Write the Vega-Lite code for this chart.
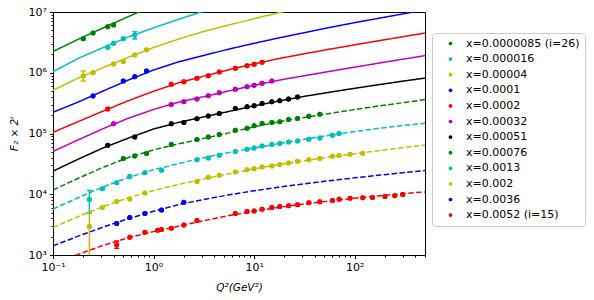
{
"$schema": "https://vega.github.io/schema/vega-lite/v6.json",
"width": 372, "height": 243,
"autosize": {"type": "none"},
"padding": {"left": 53, "top": 12, "right": 169, "bottom": 45},
"config": {"font": "DejaVu Sans", "view": {"stroke": "black", "strokeWidth": 1}},
"datasets": {
"curves": [
{"s":"x=0.0000085 (i=26)","d":0,"q":0.1,"F":2234000},{"s":"x=0.0000085 (i=26)","d":0,"q":0.1778,"F":3548000},{"s":"x=0.0000085 (i=26)","d":0,"q":0.3162,"F":5495000},{"s":"x=0.0000085 (i=26)","d":0,"q":0.5623,"F":8414000},{"s":"x=0.0000085 (i=26)","d":0,"q":1,"F":12735000},
{"s":"x=0.000016","d":0,"q":0.1,"F":1042000},{"s":"x=0.000016","d":0,"q":0.1778,"F":1718000},{"s":"x=0.000016","d":0,"q":0.3162,"F":2600000},{"s":"x=0.000016","d":0,"q":0.5623,"F":3890000},{"s":"x=0.000016","d":0,"q":1,"F":5495000},{"s":"x=0.000016","d":0,"q":1.778,"F":7586000},{"s":"x=0.000016","d":0,"q":3.162,"F":10350000},
{"s":"x=0.00004","d":0,"q":0.1,"F":515200},{"s":"x=0.00004","d":0,"q":0.1778,"F":816600},{"s":"x=0.00004","d":0,"q":0.3162,"F":1216200},{"s":"x=0.00004","d":0,"q":0.5623,"F":1799000},{"s":"x=0.00004","d":0,"q":1,"F":2600000},{"s":"x=0.00004","d":0,"q":1.778,"F":3589000},{"s":"x=0.00004","d":0,"q":3.162,"F":4786000},{"s":"x=0.00004","d":0,"q":5.623,"F":6095000},{"s":"x=0.00004","d":0,"q":10,"F":7762000},{"s":"x=0.00004","d":0,"q":17.78,"F":9772000},{"s":"x=0.00004","d":0,"q":31.62,"F":12303000},
{"s":"x=0.0001","d":0,"q":0.1,"F":223900},{"s":"x=0.0001","d":0,"q":0.1778,"F":329600},{"s":"x=0.0001","d":0,"q":0.3162,"F":501200},{"s":"x=0.0001","d":0,"q":0.5623,"F":758600},{"s":"x=0.0001","d":0,"q":1,"F":1109200},{"s":"x=0.0001","d":0,"q":1.778,"F":1513600},{"s":"x=0.0001","d":0,"q":3.162,"F":1927500},{"s":"x=0.0001","d":0,"q":5.623,"F":2454700},{"s":"x=0.0001","d":0,"q":10,"F":3055000},{"s":"x=0.0001","d":0,"q":17.78,"F":3758000},{"s":"x=0.0001","d":0,"q":31.62,"F":4571000},{"s":"x=0.0001","d":0,"q":56.23,"F":5559000},{"s":"x=0.0001","d":0,"q":100,"F":6683000},{"s":"x=0.0001","d":0,"q":177.8,"F":7943000},{"s":"x=0.0001","d":0,"q":316.2,"F":9441000},{"s":"x=0.0001","d":0,"q":500,"F":10965000},
{"s":"x=0.0002","d":0,"q":0.1,"F":104710},{"s":"x=0.0002","d":0,"q":0.1778,"F":156680},{"s":"x=0.0002","d":0,"q":0.3162,"F":234400},{"s":"x=0.0002","d":0,"q":0.5623,"F":346700},{"s":"x=0.0002","d":0,"q":1,"F":495450},{"s":"x=0.0002","d":0,"q":1.778,"F":683900},{"s":"x=0.0002","d":0,"q":3.162,"F":881000},{"s":"x=0.0002","d":0,"q":5.623,"F":1122000},{"s":"x=0.0002","d":0,"q":10,"F":1396400},{"s":"x=0.0002","d":0,"q":17.78,"F":1718000},{"s":"x=0.0002","d":0,"q":31.62,"F":2053500},{"s":"x=0.0002","d":0,"q":56.23,"F":2440600},{"s":"x=0.0002","d":0,"q":100,"F":2884000},{"s":"x=0.0002","d":0,"q":177.8,"F":3388000},{"s":"x=0.0002","d":0,"q":316.2,"F":3972000},{"s":"x=0.0002","d":0,"q":500,"F":4498000},
{"s":"x=0.00032","d":0,"q":0.1,"F":50700},{"s":"x=0.00032","d":0,"q":0.1778,"F":78520},{"s":"x=0.00032","d":0,"q":0.3162,"F":120500},{"s":"x=0.00032","d":0,"q":0.5623,"F":178240},{"s":"x=0.00032","d":0,"q":1,"F":248890},{"s":"x=0.00032","d":0,"q":1.778,"F":328100},{"s":"x=0.00032","d":0,"q":3.162,"F":403650},{"s":"x=0.00032","d":0,"q":5.623,"F":502340},{"s":"x=0.00032","d":0,"q":10,"F":621590},{"s":"x=0.00032","d":0,"q":17.78,"F":755970},{"s":"x=0.00032","d":0,"q":31.62,"F":893310},{"s":"x=0.00032","d":0,"q":56.23,"F":1052700},{"s":"x=0.00032","d":0,"q":100,"F":1236800},{"s":"x=0.00032","d":0,"q":177.8,"F":1448800},{"s":"x=0.00032","d":0,"q":316.2,"F":1692400},{"s":"x=0.00032","d":0,"q":500,"F":1910700},
{"s":"x=0.00051","d":0,"q":0.1,"F":23988},{"s":"x=0.00051","d":0,"q":0.1778,"F":37757},{"s":"x=0.00051","d":0,"q":0.3162,"F":58076},{"s":"x=0.00051","d":0,"q":0.5623,"F":83946},{"s":"x=0.00051","d":0,"q":1,"F":118580},{"s":"x=0.00051","d":0,"q":1.778,"F":152760},{"s":"x=0.00051","d":0,"q":3.162,"F":187930},{"s":"x=0.00051","d":0,"q":5.623,"F":231210},{"s":"x=0.00051","d":0,"q":10,"F":284450},{"s":"x=0.00051","d":0,"q":17.78,"F":343960},{"s":"x=0.00051","d":0,"q":31.62,"F":408810},{"s":"x=0.00051","d":0,"q":56.23,"F":477530},{"s":"x=0.00051","d":0,"q":100,"F":554630},{"s":"x=0.00051","d":0,"q":177.8,"F":640490},{"s":"x=0.00051","d":0,"q":316.2,"F":735400},{"s":"x=0.00051","d":0,"q":500,"F":817140},
{"s":"x=0.00076","d":1,"q":0.1,"F":11749},{"s":"x=0.00076","d":1,"q":0.1778,"F":18281},{"s":"x=0.00076","d":1,"q":0.3162,"F":27861},{"s":"x=0.00076","d":1,"q":0.5623,"F":40272},{"s":"x=0.00076","d":1,"q":1,"F":53703},{"s":"x=0.00076","d":1,"q":1.778,"F":67608},{"s":"x=0.00076","d":1,"q":3.162,"F":83176},{"s":"x=0.00076","d":1,"q":5.623,"F":102330},{"s":"x=0.00076","d":1,"q":10,"F":128820},{"s":"x=0.00076","d":1,"q":17.78,"F":156680},{"s":"x=0.00076","d":1,"q":31.62,"F":184080},{"s":"x=0.00076","d":1,"q":56.23,"F":213800},{"s":"x=0.00076","d":1,"q":100,"F":248310},{"s":"x=0.00076","d":1,"q":177.8,"F":285100},{"s":"x=0.00076","d":1,"q":316.2,"F":325090},{"s":"x=0.00076","d":1,"q":500,"F":362240},
{"s":"x=0.0013","d":1,"q":0.1,"F":5728},{"s":"x=0.0013","d":1,"q":0.1778,"F":8750},{"s":"x=0.0013","d":1,"q":0.3162,"F":13243},{"s":"x=0.0013","d":1,"q":0.5623,"F":18923},{"s":"x=0.0013","d":1,"q":1,"F":25235},{"s":"x=0.0013","d":1,"q":1.778,"F":32137},{"s":"x=0.0013","d":1,"q":3.162,"F":39994},{"s":"x=0.0013","d":1,"q":5.623,"F":48641},{"s":"x=0.0013","d":1,"q":10,"F":57810},{"s":"x=0.0013","d":1,"q":17.78,"F":68310},{"s":"x=0.0013","d":1,"q":31.62,"F":80265},{"s":"x=0.0013","d":1,"q":56.23,"F":93756},{"s":"x=0.0013","d":1,"q":100,"F":107650},{"s":"x=0.0013","d":1,"q":177.8,"F":122180},{"s":"x=0.0013","d":1,"q":316.2,"F":137090},{"s":"x=0.0013","d":1,"q":500,"F":147230},
{"s":"x=0.002","d":1,"q":0.1,"F":2831},{"s":"x=0.002","d":1,"q":0.1778,"F":4286},{"s":"x=0.002","d":1,"q":0.3162,"F":6281},{"s":"x=0.002","d":1,"q":0.5623,"F":8770},{"s":"x=0.002","d":1,"q":1,"F":11561},{"s":"x=0.002","d":1,"q":1.778,"F":14555},{"s":"x=0.002","d":1,"q":3.162,"F":17906},{"s":"x=0.002","d":1,"q":5.623,"F":21777},{"s":"x=0.002","d":1,"q":10,"F":26182},{"s":"x=0.002","d":1,"q":17.78,"F":30761},{"s":"x=0.002","d":1,"q":31.62,"F":35727},{"s":"x=0.002","d":1,"q":56.23,"F":41020},{"s":"x=0.002","d":1,"q":100,"F":46559},{"s":"x=0.002","d":1,"q":177.8,"F":52541},{"s":"x=0.002","d":1,"q":316.2,"F":58952},{"s":"x=0.002","d":1,"q":500,"F":64310},
{"s":"x=0.0036","d":1,"q":0.1,"F":1413},{"s":"x=0.0036","d":1,"q":0.1778,"F":2042},{"s":"x=0.0036","d":1,"q":0.3162,"F":2884},{"s":"x=0.0036","d":1,"q":0.5623,"F":3981},{"s":"x=0.0036","d":1,"q":1,"F":5248},{"s":"x=0.0036","d":1,"q":1.778,"F":6761},{"s":"x=0.0036","d":1,"q":3.162,"F":8222},{"s":"x=0.0036","d":1,"q":5.623,"F":9772},{"s":"x=0.0036","d":1,"q":10,"F":11416},{"s":"x=0.0036","d":1,"q":17.78,"F":13107},{"s":"x=0.0036","d":1,"q":31.62,"F":14876},{"s":"x=0.0036","d":1,"q":56.23,"F":16692},{"s":"x=0.0036","d":1,"q":100,"F":18621},{"s":"x=0.0036","d":1,"q":177.8,"F":20654},{"s":"x=0.0036","d":1,"q":316.2,"F":22777},{"s":"x=0.0036","d":1,"q":500,"F":24621},
{"s":"x=0.0052 (i=15)","d":1,"q":0.1,"F":724},{"s":"x=0.0052 (i=15)","d":1,"q":0.1778,"F":1023},{"s":"x=0.0052 (i=15)","d":1,"q":0.3162,"F":1445},{"s":"x=0.0052 (i=15)","d":1,"q":0.5623,"F":1928},{"s":"x=0.0052 (i=15)","d":1,"q":1,"F":2427},{"s":"x=0.0052 (i=15)","d":1,"q":1.778,"F":2985},{"s":"x=0.0052 (i=15)","d":1,"q":3.162,"F":3673},{"s":"x=0.0052 (i=15)","d":1,"q":5.623,"F":4467},{"s":"x=0.0052 (i=15)","d":1,"q":10,"F":5248},{"s":"x=0.0052 (i=15)","d":1,"q":17.78,"F":6095},{"s":"x=0.0052 (i=15)","d":1,"q":31.62,"F":6918},{"s":"x=0.0052 (i=15)","d":1,"q":56.23,"F":7762},{"s":"x=0.0052 (i=15)","d":1,"q":100,"F":8610},{"s":"x=0.0052 (i=15)","d":1,"q":177.8,"F":9441},{"s":"x=0.0052 (i=15)","d":1,"q":316.2,"F":10292},{"s":"x=0.0052 (i=15)","d":1,"q":500,"F":10924}
],
"points": [
{"s":"x=0.0000085 (i=26)","q":0.2,"F":3640000},{"s":"x=0.0000085 (i=26)","q":0.25,"F":4500000},{"s":"x=0.0000085 (i=26)","q":0.35,"F":5710000},{"s":"x=0.0000085 (i=26)","q":0.4,"F":6100000},
{"s":"x=0.000016","q":0.35,"F":2640000},{"s":"x=0.000016","q":0.4,"F":3050000},{"s":"x=0.000016","q":0.5,"F":3620000},{"s":"x=0.000016","q":0.65,"F":4170000},
{"s":"x=0.00004","q":0.2,"F":885000},{"s":"x=0.00004","q":0.25,"F":1004000},{"s":"x=0.00004","q":0.4,"F":1398000},{"s":"x=0.00004","q":0.5,"F":1526000},{"s":"x=0.00004","q":0.65,"F":1968000},{"s":"x=0.00004","q":0.85,"F":2380000},
{"s":"x=0.0001","q":0.25,"F":414000},{"s":"x=0.0001","q":0.5,"F":732000},{"s":"x=0.0001","q":0.65,"F":862000},{"s":"x=0.0001","q":0.85,"F":1070000},
{"s":"x=0.0002","q":0.35,"F":252000},{"s":"x=0.0002","q":1.5,"F":646000},{"s":"x=0.0002","q":2,"F":713000},{"s":"x=0.0002","q":2.7,"F":811000},{"s":"x=0.0002","q":3.5,"F":895000},{"s":"x=0.0002","q":4.5,"F":1031000},{"s":"x=0.0002","q":6.5,"F":1186000},{"s":"x=0.0002","q":8.5,"F":1310000},{"s":"x=0.0002","q":10,"F":1382000},{"s":"x=0.0002","q":12,"F":1493000},
{"s":"x=0.00032","q":0.4,"F":145200},{"s":"x=0.00032","q":1.5,"F":301500},{"s":"x=0.00032","q":2,"F":333000},{"s":"x=0.00032","q":2.7,"F":369000},{"s":"x=0.00032","q":3.5,"F":417000},{"s":"x=0.00032","q":4.5,"F":467000},{"s":"x=0.00032","q":6.5,"F":534000},{"s":"x=0.00032","q":8.5,"F":589000},{"s":"x=0.00032","q":10,"F":622000},{"s":"x=0.00032","q":12,"F":671000},{"s":"x=0.00032","q":15,"F":732000},
{"s":"x=0.00051","q":0.35,"F":64100},{"s":"x=0.00051","q":0.65,"F":87900},{"s":"x=0.00051","q":1.5,"F":145200},{"s":"x=0.00051","q":2,"F":152000},{"s":"x=0.00051","q":2.7,"F":174200},{"s":"x=0.00051","q":3.5,"F":194500},{"s":"x=0.00051","q":4.5,"F":214000},{"s":"x=0.00051","q":6.5,"F":257000},{"s":"x=0.00051","q":8.5,"F":275400},{"s":"x=0.00051","q":10,"F":286000},{"s":"x=0.00051","q":12,"F":313000},{"s":"x=0.00051","q":15,"F":333000},{"s":"x=0.00051","q":18,"F":346000},{"s":"x=0.00051","q":22,"F":369000},{"s":"x=0.00051","q":27,"F":398000},
{"s":"x=0.00076","q":0.5,"F":38600},{"s":"x=0.00076","q":0.65,"F":42700},{"s":"x=0.00076","q":0.85,"F":46700},{"s":"x=0.00076","q":1.5,"F":65800},{"s":"x=0.00076","q":2.7,"F":79600},{"s":"x=0.00076","q":3.5,"F":87900},{"s":"x=0.00076","q":4.5,"F":96200},{"s":"x=0.00076","q":6.5,"F":113500},{"s":"x=0.00076","q":8.5,"F":122400},{"s":"x=0.00076","q":10,"F":134600},{"s":"x=0.00076","q":12,"F":146200},{"s":"x=0.00076","q":15,"F":152000},{"s":"x=0.00076","q":18,"F":155600},{"s":"x=0.00076","q":22,"F":170300},{"s":"x=0.00076","q":27,"F":177000},{"s":"x=0.00076","q":35,"F":193200},{"s":"x=0.00076","q":45,"F":208400},
{"s":"x=0.0013","q":0.23,"F":8200},{"s":"x=0.0013","q":0.31,"F":12330},{"s":"x=0.0013","q":0.43,"F":15490},{"s":"x=0.0013","q":0.58,"F":19680},{"s":"x=0.0013","q":0.82,"F":22650},{"s":"x=0.0013","q":1.2,"F":24720},{"s":"x=0.0013","q":2.7,"F":37150},{"s":"x=0.0013","q":3.5,"F":39530},{"s":"x=0.0013","q":4.5,"F":43750},{"s":"x=0.0013","q":6.5,"F":50360},{"s":"x=0.0013","q":8.5,"F":55000},{"s":"x=0.0013","q":10,"F":57800},{"s":"x=0.0013","q":12,"F":62400},{"s":"x=0.0013","q":15,"F":65800},{"s":"x=0.0013","q":18,"F":68400},{"s":"x=0.0013","q":22,"F":72600},{"s":"x=0.0013","q":27,"F":75500},{"s":"x=0.0013","q":35,"F":80500},{"s":"x=0.0013","q":45,"F":84500},{"s":"x=0.0013","q":60,"F":93800},{"s":"x=0.0013","q":70,"F":100000},
{"s":"x=0.002","q":0.23,"F":2940},{"s":"x=0.002","q":0.31,"F":6050},{"s":"x=0.002","q":0.43,"F":7600},{"s":"x=0.002","q":0.58,"F":8360},{"s":"x=0.002","q":0.82,"F":10500},{"s":"x=0.002","q":2.7,"F":16290},{"s":"x=0.002","q":3.5,"F":18970},{"s":"x=0.002","q":4.5,"F":20460},{"s":"x=0.002","q":6.5,"F":23170},{"s":"x=0.002","q":8.5,"F":25410},{"s":"x=0.002","q":10,"F":26360},{"s":"x=0.002","q":12,"F":28050},{"s":"x=0.002","q":15,"F":29110},{"s":"x=0.002","q":18,"F":30760},{"s":"x=0.002","q":22,"F":32660},{"s":"x=0.002","q":27,"F":34830},{"s":"x=0.002","q":35,"F":37150},{"s":"x=0.002","q":45,"F":38640},{"s":"x=0.002","q":60,"F":42170},{"s":"x=0.002","q":70,"F":43250},{"s":"x=0.002","q":90,"F":45500},{"s":"x=0.002","q":120,"F":47200},
{"s":"x=0.0036","q":0.43,"F":3290},{"s":"x=0.0036","q":0.58,"F":4140},{"s":"x=0.0036","q":0.82,"F":4820},{"s":"x=0.0036","q":1.2,"F":5500},{"s":"x=0.0036","q":2,"F":7400},
{"s":"x=0.0052 (i=15)","q":0.43,"F":1479},{"s":"x=0.0052 (i=15)","q":0.58,"F":1954},{"s":"x=0.0052 (i=15)","q":0.82,"F":2366},{"s":"x=0.0052 (i=15)","q":1.1,"F":2560},{"s":"x=0.0052 (i=15)","q":1.2,"F":2620},{"s":"x=0.0052 (i=15)","q":1.5,"F":2754},{"s":"x=0.0052 (i=15)","q":2,"F":3112},{"s":"x=0.0052 (i=15)","q":2.7,"F":3690},{"s":"x=0.0052 (i=15)","q":6.5,"F":4820},{"s":"x=0.0052 (i=15)","q":8.5,"F":5200},{"s":"x=0.0052 (i=15)","q":10,"F":5297},{"s":"x=0.0052 (i=15)","q":12,"F":5675},{"s":"x=0.0052 (i=15)","q":15,"F":6053},{"s":"x=0.0052 (i=15)","q":18,"F":6281},{"s":"x=0.0052 (i=15)","q":22,"F":6457},{"s":"x=0.0052 (i=15)","q":27,"F":6730},{"s":"x=0.0052 (i=15)","q":35,"F":7244},{"s":"x=0.0052 (i=15)","q":45,"F":7516},{"s":"x=0.0052 (i=15)","q":60,"F":7907},{"s":"x=0.0052 (i=15)","q":70,"F":8267},{"s":"x=0.0052 (i=15)","q":90,"F":8630},{"s":"x=0.0052 (i=15)","q":120,"F":8750},{"s":"x=0.0052 (i=15)","q":150,"F":8851},{"s":"x=0.0052 (i=15)","q":200,"F":9204},{"s":"x=0.0052 (i=15)","q":250,"F":9484},{"s":"x=0.0052 (i=15)","q":300,"F":9931}
],
"errs": [
{"s":"x=0.00004","q":0.2,"F":731000,"hi":1070000},
{"s":"x=0.000016","q":0.65,"F":3600000,"hi":4760000},
{"s":"x=0.0013","q":0.23,"F":4840,"hi":11560},
{"s":"x=0.002","q":0.23,"F":940,"hi":4940},
{"s":"x=0.0052 (i=15)","q":0.43,"F":1290,"hi":1700}
]
},
"encoding": {
"x": {"field": "q", "type": "quantitative",
 "scale": {"type": "log", "domain": [0.1, 500], "nice": false},
 "axis": {"title": "Q²(GeV²)", "titleFontStyle": "italic", "titleFontWeight": "normal", "titleFontSize": 10.5, "titleColor": "black", "titlePadding": 10,
  "values": [0.1,0.2,0.3,0.4,0.5,0.6,0.7,0.8,0.9,1,2,3,4,5,6,7,8,9,10,20,30,40,50,60,70,80,90,100,200,300,400,500],
  "labelExpr": "datum.value==0.1?'10⁻¹':datum.value==1?'10⁰':datum.value==10?'10¹':datum.value==100?'10²':''",
  "tickSize": {"condition": {"test": "datum.value==0.1||datum.value==1||datum.value==10||datum.value==100", "value": 3.5}, "value": 2},
  "labelFlush": false, "labelOverlap": false, "grid": false, "domainColor": "black", "tickColor": "black",
  "labelColor": "black", "labelFontSize": 11, "labelPadding": 3}},
"y": {"field": "F", "type": "quantitative",
 "scale": {"type": "log", "domain": [1000, 10000000], "nice": false},
 "axis": {"title": "F₂ × 2ⁱ", "titleFontStyle": "italic", "titleFontWeight": "normal", "titleFontSize": 10.5, "titleColor": "black", "titlePadding": 9,
  "values": [1000,2000,3000,4000,5000,6000,7000,8000,9000,10000,20000,30000,40000,50000,60000,70000,80000,90000,100000,200000,300000,400000,500000,600000,700000,800000,900000,1000000,2000000,3000000,4000000,5000000,6000000,7000000,8000000,9000000,10000000],
  "labelExpr": "datum.value==1000?'10³':datum.value==10000?'10⁴':datum.value==100000?'10⁵':datum.value==1000000?'10⁶':datum.value==10000000?'10⁷':''",
  "tickSize": {"condition": {"test": "datum.value==1000||datum.value==10000||datum.value==100000||datum.value==1000000||datum.value==10000000", "value": 3.5}, "value": 2},
  "labelFlush": false, "labelOverlap": false, "grid": false, "domainColor": "black", "tickColor": "black",
  "labelColor": "black", "labelFontSize": 11, "labelPadding": 3}},
"color": {"field": "s", "type": "nominal",
 "scale": {"domain": ["x=0.0000085 (i=26)","x=0.000016","x=0.00004","x=0.0001","x=0.0002","x=0.00032","x=0.00051","x=0.00076","x=0.0013","x=0.002","x=0.0036","x=0.0052 (i=15)"],
  "range": ["#008000","#00bfbf","#bfbf00","#0000ff","#ff0000","#bf00bf","#000000","#008000","#00bfbf","#bfbf00","#0000ff","#ff0000"]},
 "legend": {"orient": "none", "legendX": 379, "legendY": 21, "title": null, "symbolType": "circle", "symbolSize": 14, "symbolStrokeWidth": 0, "symbolFillColor": null,
  "labelFontSize": 11, "labelColor": "black", "padding": 5, "symbolOffset": 8, "labelOffset": 10, "rowPadding": 3.6,
  "strokeColor": "#cccccc", "fillColor": "white", "cornerRadius": 3}}
},
"layer": [
{
"data": {"name": "points"},
"mark": {"type": "circle", "size": 25, "opacity": 1, "clip": true}
},
{
"data": {"name": "curves"},
"mark": {"type": "line", "strokeWidth": 1.5, "clip": true},
"encoding": {
"strokeDash": {"field": "d", "type": "nominal", "legend": null, "scale": {"domain": [0, 1], "range": [[1, 0], [5.5, 2.4]]}}
}
},
{
"data": {"name": "errs"},
"mark": {"type": "rule", "strokeWidth": 1.5, "clip": true},
"encoding": {"y2": {"field": "hi"}}
},
{
"data": {"name": "errs"},
"transform": [{"fold": ["F", "hi"], "as": ["k", "F"]}],
"mark": {"type": "tick", "orient": "horizontal", "size": 5, "thickness": 1.5, "clip": true, "opacity": 1}
},
{
"data": {"name": "points"},
"mark": {"type": "circle", "size": 25, "opacity": 1, "clip": true}
}
]
}
